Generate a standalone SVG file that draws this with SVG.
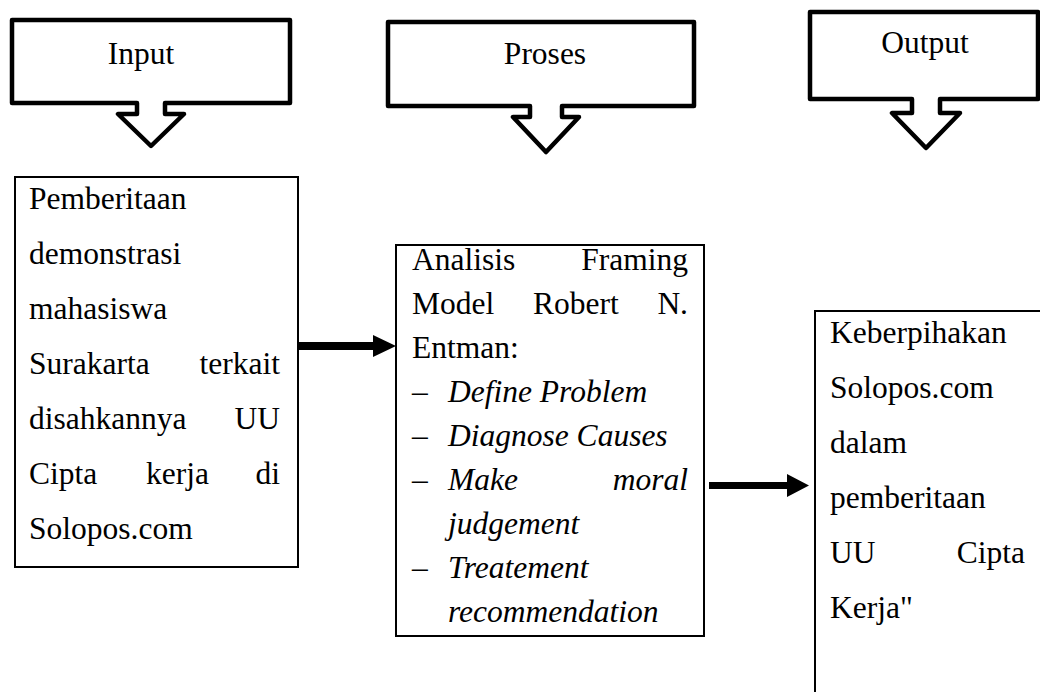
<svg xmlns="http://www.w3.org/2000/svg" width="1040" height="692" viewBox="0 0 1040 692">
<style>
.t{font-family:"Liberation Serif","Times New Roman",serif;font-size:31.5px;fill:#000}
.i{font-style:italic}
.e{text-anchor:end}
.m{text-anchor:middle}
.call{fill:#fff;stroke:#000;stroke-width:4.5;stroke-linejoin:round}
.box{fill:#fff;stroke:#000;stroke-width:2}
.arr{fill:#000;stroke:none}
</style>
<rect width="1040" height="692" fill="#fff"/>
<g id="input-header">
<path class="call" d="M12,20 H290 V103 H165 V114 H184 L151,146 L118,114 H137 V103 H12 Z"/>
<text class="t m" x="141" y="64">Input</text>
</g>
<g id="proses-header">
<path class="call" d="M388,22 H694 V106 H562 V117 H579 L546,152 L513,117 H530 V106 H388 Z"/>
<text class="t m" x="545" y="64">Proses</text>
</g>
<g id="output-header">
<path class="call" d="M810,12 H1038 V99 H940 V113 H960 L926,148 L892,113 H912 V99 H810 Z"/>
<text class="t m" x="925" y="53">Output</text>
</g>
<g id="input-box">
<rect class="box" x="15" y="177" width="283" height="390"/>
<text class="t" x="29" y="209">Pemberitaan</text>
<text class="t" x="29" y="264">demonstrasi</text>
<text class="t" x="29" y="319">mahasiswa</text>
<text class="t" x="29" y="374">Surakarta</text><text class="t e" x="280" y="374">terkait</text>
<text class="t" x="29" y="429">disahkannya</text><text class="t e" x="280" y="429">UU</text>
<text class="t" x="29" y="484">Cipta</text><text class="t" x="146" y="484">kerja</text><text class="t e" x="280" y="484">di</text>
<text class="t" x="29" y="539">Solopos.com</text>
</g>
<g id="proses-box">
<rect class="box" x="396" y="245" width="308" height="391"/>
<text class="t" x="412" y="270">Analisis</text><text class="t e" x="688" y="270">Framing</text>
<text class="t" x="412" y="314">Model</text><text class="t" x="533" y="314">Robert</text><text class="t e" x="688" y="314">N.</text>
<text class="t" x="412" y="358">Entman:</text>
<text class="t" x="412" y="402">–</text><text class="t i" x="448" y="402">Define Problem</text>
<text class="t" x="412" y="446">–</text><text class="t i" x="448" y="446">Diagnose Causes</text>
<text class="t" x="412" y="490">–</text><text class="t i" x="448" y="490">Make</text><text class="t i e" x="688" y="490">moral</text>
<text class="t i" x="448" y="534">judgement</text>
<text class="t" x="412" y="578">–</text><text class="t i" x="448" y="578">Treatement</text>
<text class="t i" x="448" y="622">recommendation</text>
</g>
<g id="output-box">
<rect class="box" x="815" y="311" width="240" height="400"/>
<text class="t" x="830" y="343">Keberpihakan</text>
<text class="t" x="830" y="398">Solopos.com</text>
<text class="t" x="830" y="453">dalam</text>
<text class="t" x="830" y="508">pemberitaan</text>
<text class="t" x="830" y="563">UU</text><text class="t e" x="1025" y="563">Cipta</text>
<text class="t" x="830" y="618">Kerja"</text>
</g>
<g id="connectors">
<polygon class="arr" points="299,342 373,342 373,335 396,346 373,357 373,350 299,350"/>
<polygon class="arr" points="709,482 787,482 787,474 809,485.5 787,497 787,489 709,489"/>
</g>
</svg>
